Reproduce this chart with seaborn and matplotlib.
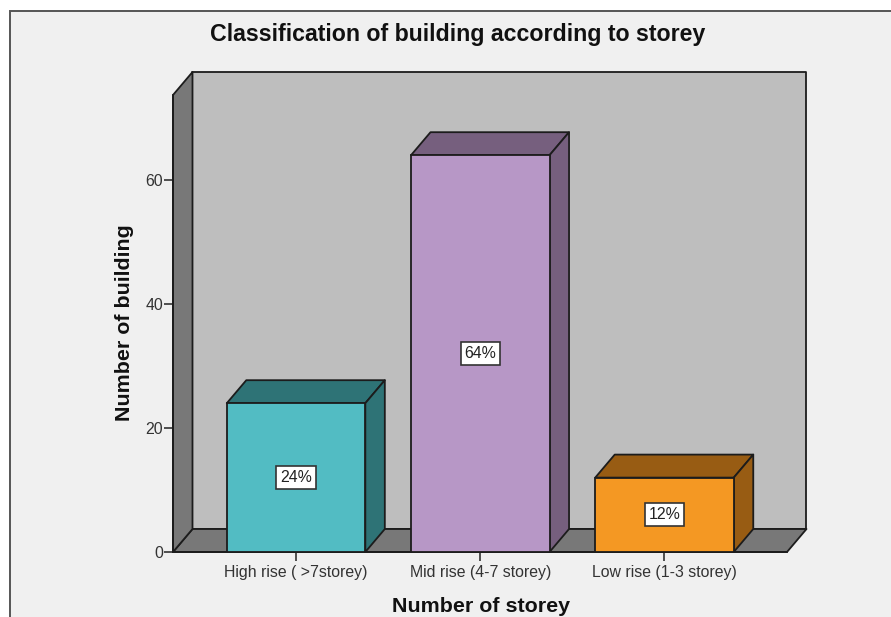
import matplotlib
matplotlib.use("Agg")
import matplotlib.pyplot as plt
from matplotlib.patches import Polygon, Rectangle
import pandas as pd
import seaborn as sns

categories = ["High rise ( >7storey)", "Mid rise (4-7 storey)", "Low rise (1-3 storey)"]
counts = [24, 64, 12]
pct_labels = ["24%", "64%", "12%"]
y_ticks = [0, 20, 40, 60]
front_colors = ["#52BCC3", "#B797C6", "#F49823"]
dark_colors = ["#2E7376", "#765F7E", "#985C13"]

W, H = 891, 617
EDGE = "#1c1c1c"
LW = 1.3
sns.set_theme(style="white")
plt.rcParams["font.family"] = ["Liberation Sans", "DejaVu Sans"]

fig = plt.figure(figsize=(W / 100, H / 100), dpi=100, facecolor="white")
fig.add_artist(Rectangle((9.5 / W, -0.05), 1.0, 1 - 10.5 / H + 0.05, transform=fig.transFigure,
                         facecolor="#F0F0F0", edgecolor="#555555", lw=1.4, zorder=-5))

L, R, T, B = 173, 787, 95, 552
ax = fig.add_axes([L / W, 1 - B / H, (R - L) / W, (B - T) / H])
ax.patch.set_alpha(0)

df = pd.DataFrame({"cat": categories, "n": counts})
sns.barplot(data=df, x="cat", y="n", hue="cat", palette=front_colors, dodge=False, legend=False,
            width=0.752, edgecolor=EDGE, linewidth=LW, saturation=1, ax=ax, zorder=5)

ax.set_xlim(-0.668, 2.665)
ax.set_ylim(0, (B - T) / 6.2)
x0, x1 = ax.get_xlim()
y0, y1 = ax.get_ylim()
dx = 19.5 / 184.25   # depth of the box, axis units
dy = 23 / 6.2

def face(pts, color, z):
    ax.add_patch(Polygon(pts, closed=True, facecolor=color, edgecolor=EDGE, lw=LW,
                         clip_on=False, zorder=z, joinstyle="round"))

# walls and floor
face([(x0 + dx, y0 + dy), (x1 + dx, y0 + dy), (x1 + dx, y1 + dy), (x0 + dx, y1 + dy)], "#BEBEBE", 1)
face([(x0, y0), (x1, y0), (x1 + dx, y0 + dy), (x0 + dx, y0 + dy)], "#787878", 2)
face([(x0, y0), (x0 + dx, y0 + dy), (x0 + dx, y1 + dy), (x0, y1)], "#787878", 2)

# bar top/side faces and labels
for bar, dark, lab in zip(ax.patches[:3], dark_colors, pct_labels):
    a, w, h = bar.get_x(), bar.get_width(), bar.get_height()
    b = a + w
    face([(a, h), (b, h), (b + dx, h + dy), (a + dx, h + dy)], dark, 4)
    face([(b, 0), (b + dx, dy), (b + dx, h + dy), (b, h)], dark, 4)
    ax.text(a + w / 2, h / 2, lab, ha="center", va="center", fontsize=11.4, color="#222222", zorder=7,
            bbox=dict(boxstyle="square,pad=0.24", facecolor="white", edgecolor="#333333", lw=1.2))

sns.despine(ax=ax, top=True, right=True, left=False, bottom=False)
for s in ("left", "bottom"):
    ax.spines[s].set_color(EDGE)
    ax.spines[s].set_linewidth(LW)
    ax.spines[s].set_zorder(3)
ax.set_yticks(y_ticks)
ax.set_xticks(range(3))
ax.set_xticklabels(categories)
ax.tick_params(axis="x", length=6.5, width=1.2, color="#333333", labelsize=11.4, labelcolor="#333333", pad=3, bottom=True)
ax.tick_params(axis="y", length=6.5, width=1.2, color="#333333", labelsize=11.4, labelcolor="#333333", pad=0.5, left=True)
ax.set_xlabel("")
ax.set_ylabel("")
fig.text(481 / W, 1 - 607 / H, "Number of storey", ha="center", va="center", fontsize=15.4, fontweight="bold", color="#111111")
fig.text(124 / W, 1 - 323 / H, "Number of building", ha="center", va="center", rotation=90, fontsize=15.4, fontweight="bold", color="#111111")
fig.text(457.5 / W, 1 - 35 / H, "Classification of building according to storey", ha="center", va="center",
         fontsize=16.7, fontweight="bold", color="#111111")
fig.savefig("out.png", dpi=100, facecolor="white")
